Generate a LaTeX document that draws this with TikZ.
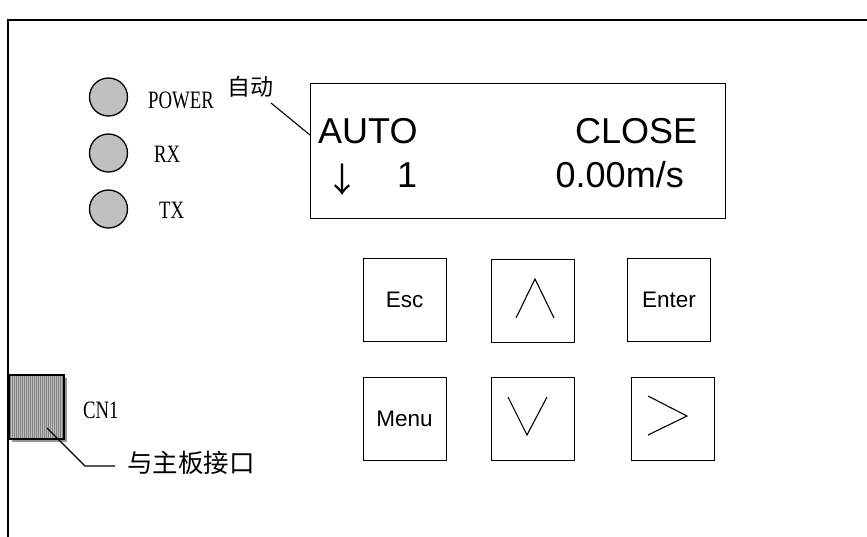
\documentclass[tikz,border=0pt]{standalone}
\usepackage{graphicx}
\usepackage{fontspec}
\setmainfont{Liberation Sans}
\newfontfamily\serifl{Liberation Serif}
\newfontfamily\cjk{Noto Sans CJK SC}
\usetikzlibrary{calc}
\definecolor{ledgray}{RGB}{192,192,192}
\definecolor{cnfill}{RGB}{190,190,190}
\definecolor{cnline}{RGB}{130,130,130}
\definecolor{cnshadow}{RGB}{150,150,150}
\tikzset{
  frame/.style={line width=1.8pt},
  led/.style={circle,draw,line width=1.3pt,fill=ledgray,minimum size=38pt,inner sep=0pt},
  sunlbl/.style={inner sep=0pt,font=\serifl\fontsize{25}{28}\selectfont},
  lcdbox/.style={draw,line width=0.8pt,minimum width=415pt,minimum height=135pt,inner sep=0pt},
  lcdtxt/.style={inner sep=0pt,font=\fontsize{36}{40}\selectfont},
  keybox/.style={draw,line width=0.8pt,minimum size=83pt,inner sep=0pt,font=\fontsize{22.5}{26}\selectfont},
  glyph/.style={line width=1.1pt},
  leader/.style={line width=1.1pt},
  cjklbl/.style={inner sep=0pt,font=\cjk\fontsize{23}{26}\selectfont}
}
\begin{document}
\begin{tikzpicture}[x=1pt,y=-1pt]
\useasboundingbox (0,0) rectangle (867,536);
% outer frame
\coordinate (fbl) at (8,540);
\coordinate (ftl) at (8,20);
\coordinate (ftr) at (871,20);
\draw[frame] (fbl) -- (ftl) -- (ftr);

% LEDs
\node[led] (ledp) at (108.5,97) {};
\node[led] (ledr) at (108.5,153) {};
\node[led] (ledt) at (108.5,209) {};
\node[sunlbl,anchor=base west] (tpower) at (148,108) {\scalebox{0.75}[1]{POWER}};
\node[sunlbl,anchor=base west] (trx) at (154,162) {\scalebox{0.75}[1]{RX}};
\node[sunlbl,anchor=base west] (ttx) at (159,218) {\scalebox{0.75}[1]{TX}};

% LCD
\node[lcdbox] (lcd) at (517.5,150.5) {};
\node[lcdtxt,anchor=base west] (auto) at (318,143) {AUTO};
\node[lcdtxt,anchor=base west] (close) at (575,143) {CLOSE};
\node[lcdtxt,anchor=base west] (one) at (397,187) {1};
\node[lcdtxt,anchor=base west] (speed) at (555.5,187) {0.00m/s};
\node[inner sep=0pt,font=\cjk\fontsize{34}{38}\selectfont] (darr) at (342,180) {↓};

% 自动 label
\node[cjklbl] (zd) at (250,87) {自动};
\coordinate (zdtip) at (271,103);
\coordinate (autotip) at (310,135);
\draw[leader] (zdtip) -- (autotip);

% keys
\node[keybox] (esc) at (404.5,299.5) {Esc};
\node[keybox] (up) at (532.5,301) {};
\node[keybox] (enter) at (669,299.5) {Enter};
\node[keybox] (menu) at (404.5,418.5) {Menu};
\node[keybox] (down) at (532.5,418.5) {};
\node[keybox] (right) at (672.5,418.5) {};
\draw[glyph] ($(up.center)+(-16.5,17)$) -- ($(up.center)+(2.5,-22)$) -- ($(up.center)+(21.5,17)$);
\draw[glyph] ($(down.center)+(-24.5,-21.5)$) -- ($(down.center)+(-5.5,16.5)$) -- ($(down.center)+(14.5,-21.5)$);
\draw[glyph] ($(right.center)+(-24.5,-22.5)$) -- ($(right.center)+(14.5,-2.5)$) -- ($(right.center)+(-24.5,16.5)$);

% CN1 connector
\fill[cnshadow] (12,378) rectangle (67,442);
\fill[cnfill] (9,375) rectangle (64,439);
\foreach \i in {10,12,...,63} {\draw[cnline,line width=0.7pt] (\i,375) -- (\i,439);}
\node[draw,line width=1.3pt,minimum width=55pt,minimum height=64pt,inner sep=0pt] (cn) at (36.5,407) {};
\node[sunlbl,anchor=base west] (tcn) at (83,418) {\scalebox{0.75}[1]{CN1}};
\coordinate (cntip) at (47,428);
\coordinate (cnbend) at (85,466);
\node[inner sep=0pt,font=\cjk\fontsize{25.5}{28}\selectfont,anchor=west] (cnlbl) at (127,463) {与主板接口};
\draw[leader] (cntip) -- (cnbend) -- ($(cnlbl.west)+(-12,3)$);
\end{tikzpicture}
\end{document}
